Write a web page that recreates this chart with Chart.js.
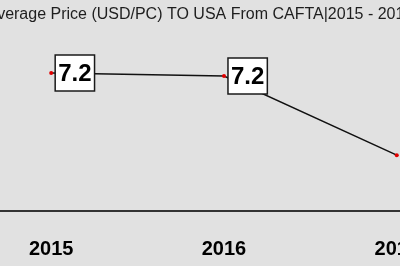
<!DOCTYPE html>
<html><head><meta charset="utf-8">
<script src="https://cdn.jsdelivr.net/npm/chart.js"></script>
<style>
html,body{margin:0;padding:0;width:400px;height:266px;overflow:hidden;background:#e1e1e1;}
#wrap{position:absolute;left:-60px;top:0;width:520px;height:266px;}
</style></head><body>
<div id="wrap"><canvas id="c" width="520" height="266"></canvas></div>
<script>
const years = [2015, 2016, 2017];
const avgPrice = [7.24, 7.16, 5.05];
const tickYears = ['2015', '2016', '2017'];
const titleText = 'Average Price (USD/PC) TO USA From CAFTA|2015 - 2017';

const FONT = '"Liberation Sans", Arial, sans-serif';

const labelBoxes = {
  id: 'labelBoxes',
  afterDatasetsDraw(chart) {
    const ctx = chart.ctx;
    const meta = chart.getDatasetMeta(0);
    ctx.save();
    ctx.font = 'bold 24px ' + FONT;
    ctx.textAlign = 'center';
    ctx.textBaseline = 'middle';
    meta.data.forEach((pt, i) => {
      const txt = avgPrice[i].toFixed(1);
      const w = ctx.measureText(txt).width + 6;
      const h = 36;
      const x0 = pt.x + 4, y0 = pt.y - h / 2;
      ctx.fillStyle = '#ffffff';
      ctx.fillRect(x0, y0, w, h);
      ctx.strokeStyle = '#1a1a1a';
      ctx.lineWidth = 1.5;
      ctx.strokeRect(x0, y0, w, h);
      ctx.fillStyle = '#000000';
      ctx.fillText(txt, x0 + w / 2, pt.y + 1);
    });
    ctx.restore();
  }
};

new Chart(document.getElementById('c'), {
  type: 'line',
  data: {
    datasets: [{
      data: years.map((y, i) => ({ x: y, y: avgPrice[i] })),
      borderColor: '#111111',
      borderWidth: 1.5,
      pointRadius: 2,
      pointBackgroundColor: '#e00000',
      pointBorderColor: '#e00000',
      pointBorderWidth: 0,
      tension: 0
    }]
  },
  options: {
    responsive: false,
    animation: false,
    layout: { padding: 0 },
    plugins: {
      legend: { display: false },
      tooltip: { enabled: false },
      title: {
        display: true,
        text: titleText,
        color: '#1e1e1e',
        font: { family: FONT, size: 16, weight: 'normal' },
        padding: { top: 5, bottom: 10 }
      }
    },
    scales: {
      x: {
        type: 'linear',
        min: 2014.3797,
        max: 2017.3428,
        grid: { display: false },
        border: { display: true, color: '#333333', width: 2 },
        ticks: {
          stepSize: 1,
          includeBounds: false,
          padding: 18,
          color: '#000000',
          font: { family: FONT, size: 20, weight: 'bold' },
          callback: (v) => { const k = years.indexOf(Math.round(v)); return k >= 0 ? tickYears[k] : ''; }
        },
        afterFit(s) { s.paddingLeft = 0; s.paddingRight = 0; s.height = 55; }
      },
      y: { display: false, min: 3.56, max: 8.2747 }
    }
  },
  plugins: [labelBoxes]
});
</script>
</body></html>
